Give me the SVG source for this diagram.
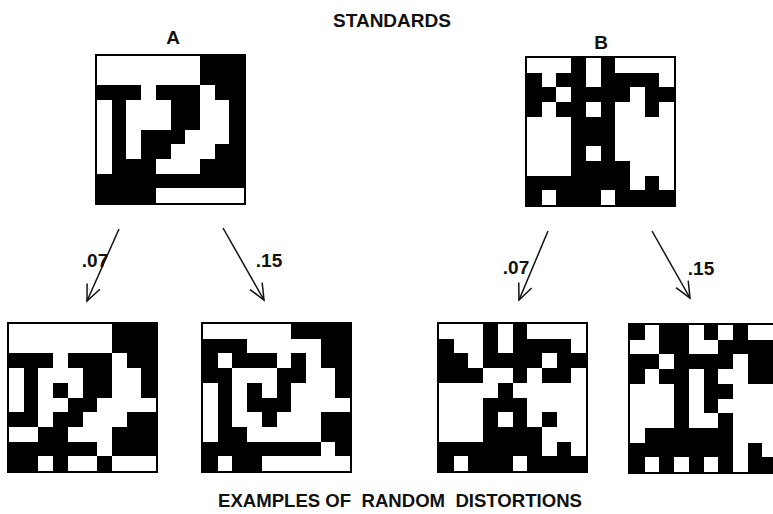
<svg xmlns="http://www.w3.org/2000/svg" width="773" height="514" viewBox="0 0 773 514">
<style>
.lbl{font-family:"Liberation Sans","DejaVu Sans",sans-serif;font-weight:bold;fill:#111;}
.frame{fill:#000;}
.w{fill:#fff;shape-rendering:crispEdges;}
.arr{stroke:#111;stroke-width:1.5;fill:none;}
</style>
<defs>
<marker id="head" markerUnits="userSpaceOnUse" markerWidth="30" markerHeight="30" refX="0" refY="0" viewBox="-20 -15 30 30" orient="auto">
<path d="M -16 -7 L 0 0 L -16 7" stroke="#111" stroke-width="1.5" fill="none"/>
</marker>
</defs>
<rect width="773" height="514" fill="#fff"/>
<text class="lbl" x="392" y="27" font-size="19" text-anchor="middle">STANDARDS</text>
<text class="lbl" x="173" y="44" font-size="19" text-anchor="middle">A</text>
<text class="lbl" x="601" y="49" font-size="19" text-anchor="middle">B</text>

<g id="gridA">
<rect class="frame" x="95" y="54" width="151" height="151"/>
<g transform="translate(97,56) scale(14.7)">
<rect class="w" x="0" y="0" width="7" height="2"/>
<rect class="w" x="3" y="2" width="1" height="1"/>
<rect class="w" x="7" y="2" width="1" height="1"/>
<rect class="w" x="0" y="3" width="1" height="5"/>
<rect class="w" x="2" y="3" width="3" height="2"/>
<rect class="w" x="7" y="3" width="2" height="2"/>
<rect class="w" x="2" y="5" width="1" height="2"/>
<rect class="w" x="6" y="5" width="3" height="1"/>
<rect class="w" x="5" y="6" width="3" height="1"/>
<rect class="w" x="4" y="7" width="3" height="1"/>
<rect class="w" x="4" y="9" width="6" height="1"/>
</g>
</g>

<g id="gridB">
<rect class="frame" x="525" y="56" width="151" height="151"/>
<g transform="translate(527,58) scale(14.7)">
<rect class="w" x="0" y="0" width="3" height="1"/>
<rect class="w" x="4" y="0" width="1" height="2"/>
<rect class="w" x="6" y="0" width="4" height="1"/>
<rect class="w" x="1" y="1" width="1" height="1"/>
<rect class="w" x="9" y="1" width="1" height="1"/>
<rect class="w" x="2" y="2" width="1" height="1"/>
<rect class="w" x="7" y="2" width="1" height="2"/>
<rect class="w" x="1" y="3" width="1" height="1"/>
<rect class="w" x="4" y="3" width="1" height="1"/>
<rect class="w" x="6" y="3" width="1" height="1"/>
<rect class="w" x="9" y="3" width="1" height="1"/>
<rect class="w" x="0" y="4" width="3" height="4"/>
<rect class="w" x="6" y="4" width="4" height="3"/>
<rect class="w" x="4" y="6" width="1" height="1"/>
<rect class="w" x="7" y="7" width="3" height="1"/>
<rect class="w" x="7" y="8" width="1" height="1"/>
<rect class="w" x="9" y="8" width="1" height="1"/>
<rect class="w" x="1" y="9" width="1" height="1"/>
<rect class="w" x="5" y="9" width="1" height="1"/>
</g>
</g>

<g id="distA07">
<rect class="frame" x="7" y="322" width="151" height="151"/>
<g transform="translate(9,324) scale(14.7)">
<rect class="w" x="0" y="0" width="7" height="2"/>
<rect class="w" x="3" y="2" width="1" height="1"/>
<rect class="w" x="7" y="2" width="1" height="1"/>
<rect class="w" x="0" y="3" width="1" height="3"/>
<rect class="w" x="2" y="3" width="1" height="4"/>
<rect class="w" x="3" y="3" width="2" height="1"/>
<rect class="w" x="4" y="4" width="1" height="1"/>
<rect class="w" x="3" y="5" width="1" height="1"/>
<rect class="w" x="7" y="3" width="2" height="2"/>
<rect class="w" x="6" y="5" width="4" height="1"/>
<rect class="w" x="5" y="6" width="3" height="1"/>
<rect class="w" x="0" y="7" width="2" height="1"/>
<rect class="w" x="4" y="7" width="3" height="1"/>
<rect class="w" x="6" y="8" width="1" height="1"/>
<rect class="w" x="2" y="9" width="1" height="1"/>
<rect class="w" x="4" y="9" width="2" height="1"/>
<rect class="w" x="7" y="9" width="3" height="1"/>
</g>
</g>

<g id="distA15">
<rect class="frame" x="201" y="322" width="151" height="151"/>
<g transform="translate(203,324) scale(14.7)">
<rect class="w" x="0" y="0" width="6" height="1"/>
<rect class="w" x="3" y="1" width="5" height="1"/>
<rect class="w" x="1" y="2" width="1" height="1"/>
<rect class="w" x="5" y="2" width="1" height="1"/>
<rect class="w" x="7" y="2" width="1" height="1"/>
<rect class="w" x="2" y="3" width="3" height="1"/>
<rect class="w" x="7" y="3" width="2" height="1"/>
<rect class="w" x="0" y="4" width="1" height="4"/>
<rect class="w" x="2" y="4" width="1" height="3"/>
<rect class="w" x="4" y="4" width="1" height="1"/>
<rect class="w" x="6" y="4" width="3" height="1"/>
<rect class="w" x="6" y="5" width="4" height="1"/>
<rect class="w" x="3" y="6" width="1" height="1"/>
<rect class="w" x="5" y="6" width="3" height="1"/>
<rect class="w" x="3" y="7" width="5" height="1"/>
<rect class="w" x="8" y="8" width="1" height="1"/>
<rect class="w" x="1" y="9" width="1" height="1"/>
<rect class="w" x="4" y="9" width="6" height="1"/>
</g>
</g>

<g id="distB07">
<rect class="frame" x="437" y="322" width="151" height="151"/>
<g transform="translate(439,324) scale(14.7)">
<rect class="w" x="0" y="0" width="3" height="1"/>
<rect class="w" x="4" y="0" width="1" height="2"/>
<rect class="w" x="6" y="0" width="4" height="1"/>
<rect class="w" x="1" y="1" width="2" height="1"/>
<rect class="w" x="9" y="1" width="1" height="1"/>
<rect class="w" x="2" y="2" width="1" height="1"/>
<rect class="w" x="7" y="2" width="1" height="1"/>
<rect class="w" x="3" y="3" width="2" height="1"/>
<rect class="w" x="6" y="3" width="1" height="4"/>
<rect class="w" x="9" y="3" width="1" height="6"/>
<rect class="w" x="0" y="4" width="4" height="1"/>
<rect class="w" x="5" y="4" width="1" height="1"/>
<rect class="w" x="7" y="4" width="2" height="2"/>
<rect class="w" x="0" y="5" width="3" height="3"/>
<rect class="w" x="4" y="6" width="1" height="1"/>
<rect class="w" x="8" y="6" width="1" height="1"/>
<rect class="w" x="7" y="7" width="2" height="1"/>
<rect class="w" x="7" y="8" width="1" height="1"/>
<rect class="w" x="1" y="9" width="1" height="1"/>
<rect class="w" x="5" y="9" width="1" height="1"/>
</g>
</g>

<g id="distB15">
<rect class="frame" x="628" y="323" width="151" height="151"/>
<g transform="translate(630,325) scale(14.7)">
<rect class="w" x="1" y="0" width="1" height="2"/>
<rect class="w" x="4" y="0" width="1" height="2"/>
<rect class="w" x="6" y="0" width="1" height="1"/>
<rect class="w" x="8" y="0" width="2" height="1"/>
<rect class="w" x="0" y="1" width="1" height="1"/>
<rect class="w" x="5" y="1" width="1" height="1"/>
<rect class="w" x="2" y="2" width="1" height="1"/>
<rect class="w" x="7" y="2" width="1" height="8"/>
<rect class="w" x="1" y="3" width="1" height="1"/>
<rect class="w" x="4" y="3" width="1" height="4"/>
<rect class="w" x="6" y="3" width="1" height="1"/>
<rect class="w" x="0" y="4" width="3" height="3"/>
<rect class="w" x="8" y="4" width="2" height="4"/>
<rect class="w" x="6" y="5" width="1" height="1"/>
<rect class="w" x="5" y="6" width="1" height="1"/>
<rect class="w" x="0" y="7" width="1" height="1"/>
<rect class="w" x="9" y="8" width="1" height="1"/>
<rect class="w" x="1" y="9" width="1" height="1"/>
<rect class="w" x="3" y="9" width="1" height="1"/>
<rect class="w" x="5" y="9" width="1" height="1"/>
</g>
</g>

<g id="connectors">
<line class="arr" x1="119" y1="229" x2="87" y2="301" marker-end="url(#head)"/>
<line class="arr" x1="223" y1="228" x2="264" y2="300" marker-end="url(#head)"/>
<line class="arr" x1="548" y1="231" x2="519" y2="300" marker-end="url(#head)"/>
<line class="arr" x1="652" y1="231" x2="690" y2="298" marker-end="url(#head)"/>
<text class="lbl" x="95" y="267" font-size="19" text-anchor="middle">.07</text>
<text class="lbl" x="269" y="267" font-size="19" text-anchor="middle">.15</text>
<text class="lbl" x="516" y="274" font-size="19" text-anchor="middle">.07</text>
<text class="lbl" x="701" y="275" font-size="19" text-anchor="middle">.15</text>
</g>

<text class="lbl" x="218" y="507" font-size="19" textLength="364" lengthAdjust="spacingAndGlyphs" xml:space="preserve">EXAMPLES OF  RANDOM  DISTORTIONS</text>
</svg>
